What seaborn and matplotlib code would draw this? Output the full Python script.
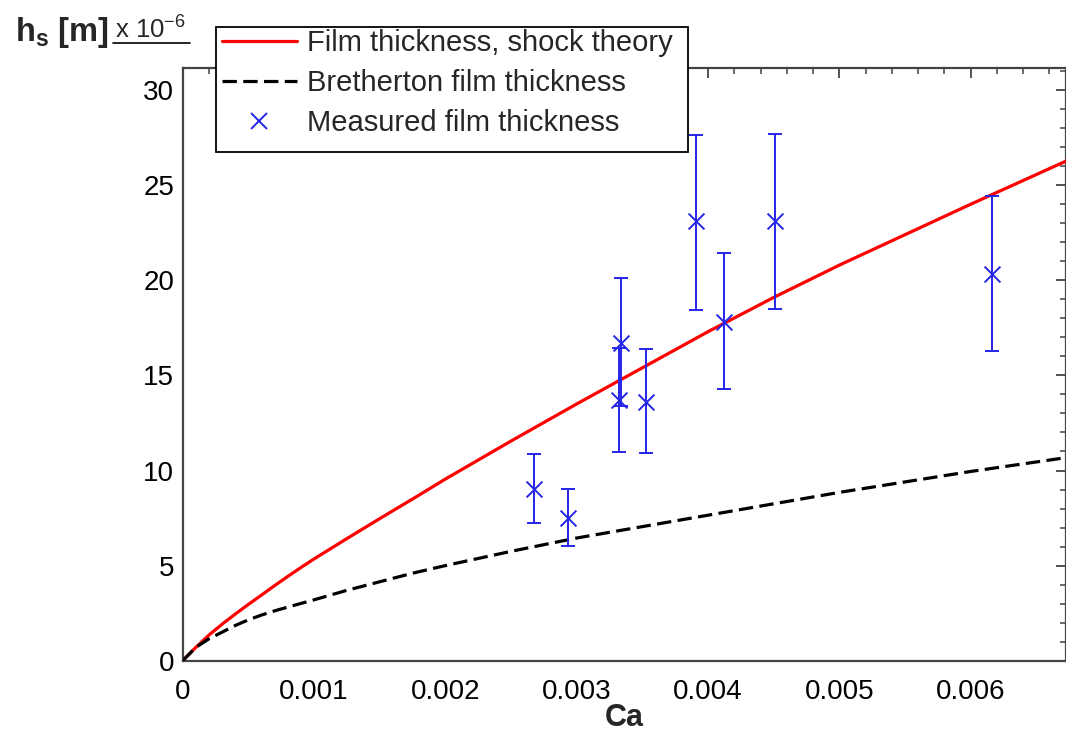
import matplotlib
matplotlib.use("Agg")
import matplotlib.pyplot as plt
from matplotlib.lines import Line2D
from matplotlib.patches import Rectangle
import seaborn as sns
import pandas as pd

# ---- data ----
ca_curve = [0, 0.0001, 0.0002, 0.0003, 0.0004, 0.0005, 0.0006, 0.0007, 0.0008, 0.0009,
            0.001, 0.00125, 0.0015, 0.00175, 0.002, 0.0025,
            0.003, 0.0035, 0.004, 0.0045, 0.005, 0.0055, 0.006, 0.0068]
h_shock = [0, 0.7, 1.35, 1.92, 2.45, 2.96, 3.45, 3.95, 4.43, 4.9,
           5.35, 6.42, 7.47, 8.5, 9.55, 11.55,
           13.5, 15.4, 17.3, 19.1, 20.8, 22.4, 24.0, 26.5]
h_breth = [0, 0.7, 1.15, 1.5, 1.85, 2.15, 2.4, 2.62, 2.82, 3.01,
           3.2, 3.7, 4.15, 4.6, 5.0, 5.75,
           6.45, 7.05, 7.65, 8.25, 8.85, 9.4, 9.95, 10.75]

ca_meas = [2.673e-3, 2.936e-3, 3.320e-3, 3.336e-3, 3.530e-3, 3.912e-3, 4.120e-3, 4.509e-3, 6.161e-3]
h_meas = [9.05, 7.5, 13.7, 16.7, 13.6, 23.1, 17.8, 23.1, 20.35]
h_low = [7.25, 6.05, 10.95, 13.4, 10.9, 18.45, 14.3, 18.5, 16.3]
h_high = [10.85, 9.05, 16.45, 20.1, 16.4, 27.65, 21.45, 27.7, 24.45]

x_ticks = [0, 0.001, 0.002, 0.003, 0.004, 0.005, 0.006]
x_ticklabels = ["0", "0.001", "0.002", "0.003", "0.004", "0.005", "0.006"]
y_ticks = [0, 5, 10, 15, 20, 25, 30]

labels = ["Film thickness, shock theory", "Bretherton film thickness", "Measured film thickness"]

# ---- styling ----
sns.set_style("white")
plt.rcParams["font.family"] = ["Liberation Sans", "DejaVu Sans"]
plt.rcParams["mathtext.fontset"] = "custom"
plt.rcParams["mathtext.rm"] = "Liberation Sans"
plt.rcParams["mathtext.bf"] = "Liberation Sans:bold"

W, H = 1066, 734
fig = plt.figure(figsize=(W / 100, H / 100), dpi=100)
ax = fig.add_axes([182.7 / W, 1 - 660.7 / H, (1065.5 - 182.7) / W, (660.7 - 67.7) / H])

red = "#ff0000"
blue = "#2525e8"
spine_c = "#444444"
dash = (0, (4.5, 2.0))

curves = pd.DataFrame({"Ca": ca_curve, "shock": h_shock, "breth": h_breth})
meas = pd.DataFrame({"Ca": ca_meas, "h": h_meas, "lo": h_low, "hi": h_high})

sns.lineplot(data=curves, x="Ca", y="shock", ax=ax, color=red, lw=2.3, zorder=3)
sns.lineplot(data=curves, x="Ca", y="breth", ax=ax, color="black", lw=2.3,
             linestyle=dash, zorder=3)
ax.errorbar(meas["Ca"], meas["h"],
            yerr=[meas["h"] - meas["lo"], meas["hi"] - meas["h"]],
            fmt="none", ecolor=blue, elinewidth=1.4, capsize=5, capthick=1.4, zorder=4)
sns.scatterplot(data=meas, x="Ca", y="h", ax=ax, marker="x", s=130, color=blue,
                linewidth=1.4, zorder=5)

ax.set_xlim(0, 0.006722)
ax.set_ylim(0, 31.18)
ax.set_xticks(x_ticks)
ax.set_xticklabels(x_ticklabels)
ax.set_yticks(y_ticks)
ax.set_xticks([i * 0.0002 for i in range(34)], minor=True)
ax.set_yticks(list(range(32)), minor=True)
ax.set_xlabel("")
ax.set_ylabel("")

for s in ax.spines.values():
    s.set_visible(True)
    s.set_color(spine_c)
    s.set_linewidth(1.6)

ax.tick_params(which="both", direction="in", top=True, right=True, colors=spine_c,
               labelcolor="black", labelsize=20)
ax.tick_params(which="major", length=7, width=1.3)
ax.tick_params(which="minor", length=4.5, width=1.1)
ax.tick_params(axis="x", which="major", pad=13)
ax.tick_params(axis="y", which="major", pad=6)

# axis titles
fig.text(624 / W, 1 - 718 / H, "Ca", fontsize=22, fontweight="bold", ha="center", va="center")
fig.text(15 / W, 1 - 32 / H, r"$\mathbf{h_s}$ [m]", fontsize=23.5, fontweight="bold",
         ha="left", va="center")
fig.text(115 / W, 1 - 29 / H, r"x 10$^{-6}$", fontsize=18.5, ha="left", va="center")
fig.add_artist(Line2D([113 / W, 190 / W], [1 - 43 / H, 1 - 43 / H], color="black", lw=1.2,
                      transform=fig.transFigure))

# legend box (fixed frame) and entries
frame = Rectangle((216 / W, 1 - 152 / H), (688 - 216) / W, (152 - 27) / H,
                  transform=fig.transFigure, facecolor="white", edgecolor="black",
                  linewidth=1.3, zorder=9)
fig.add_artist(frame)
handles = [Line2D([], [], color=red, lw=2.3),
           Line2D([], [], color="black", lw=2.3, linestyle=dash),
           Line2D([], [], color=blue, marker="x", linestyle="none", markersize=11.5, mew=1.4)]
leg = fig.legend(handles, labels, loc="upper left", bbox_to_anchor=(222 / W, 1 - 29 / H),
                 fontsize=21, frameon=False, borderaxespad=0, borderpad=0,
                 handlelength=2.57, handletextpad=0.34, labelspacing=0.41)
leg.set_zorder(10)

fig.savefig("out.png", dpi=100)
